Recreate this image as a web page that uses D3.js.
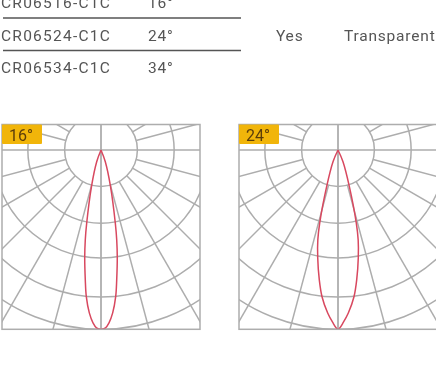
<!DOCTYPE html>
<html lang="en">
<head>
    <meta charset="UTF-8">
    <title>Beam angle polar diagrams</title>
    <script src="https://d3js.org/d3.v7.min.js"></script>
    <style>
        body {
            margin: 0;
            padding: 0;
            background: #fff;
            overflow: hidden;
        }

        svg {
            filter: blur(0.35px);
        }

        text {
            font-family: 'Roboto', sans-serif;
            fill: #555;
        }

        .cell {
            font-size: 15.5px;
            letter-spacing: 0.8px;
        }

        .model {
            letter-spacing: 1.25px;
        }
    </style>
</head>
<body>
    <svg id="chart" width="436" height="365"></svg>

    <script>
        // Table
        const models = ["CR06516-C1C", "CR06524-C1C", "CR06534-C1C"];
        const beams = ["16°", "24°", "34°"];
        const dimmable = "Yes";
        const lens = "Transparent";

        // Polar grid (degrees from straight down, relative intensity)
        // the rings are not evenly spaced in the picture
        const rings = [20.3, 40.8, 60.2, 82, 100];
        const spokes = [15, 30, 45, 60, 75, 105, 120, 135];

        // Half of each beam curve, from the tip at the centre to the bottom
        const angles16 = [24, 20.2, 14.67, 11.08, 9.9, 8.6, 6.89, 5.72, 4.1, 2.65, 1.45, 0];
        const values16 = [0, 6.95, 20.9, 41.5, 51, 60.7, 73, 82.2, 91.1, 96.5, 99.2, 100];
        const angles24 = [27, 23.1, 17.3, 14.07, 12.65, 10.67, 8.19, 6.22, 3.62, 1.66, 0.55, 0];
        const values24 = [0, 7.1, 21.2, 42, 51.4, 61.1, 73.2, 82.3, 91.1, 96.5, 99.3, 100];

        const panelLabels = ["16°", "24°"];
        const panelAngles = [angles16, angles24];
        const panelValues = [values16, values24];
        const panelLefts = [2, 239];

        const panelW = 198;
        const panelH = 204.8;
        const panelTop = 124.5;
        const centerDy = 25.5;

        const svg = d3.select("#chart");

        // Table rows
        const rowY = d3.scalePoint().domain(models).range([8, 73]);
        const rows = svg.append("g");

        models.forEach((m, i) => {
            rows.append("text").attr("class", "cell model").attr("x", 1).attr("y", rowY(m)).text(m);
            rows.append("text").attr("class", "cell").attr("x", 148).attr("y", rowY(m)).text(beams[i]);
        });

        rows.selectAll("line")
            .data(models.slice(1))
            .join("line")
            .attr("x1", 3)
            .attr("x2", 241)
            .attr("y1", d => rowY(d) - 22.5)
            .attr("y2", d => rowY(d) - 22.5)
            .attr("stroke", "#555")
            .attr("stroke-width", 1.4);

        rows.append("text").attr("class", "cell").attr("x", 276).attr("y", rowY(models[1])).text(dimmable);
        rows.append("text").attr("class", "cell").attr("x", 344).attr("y", rowY(models[1])).text(lens);

        // Radius scale, 100% reaches the bottom edge of the box
        const r = d3.scaleLinear().domain([0, 100]).range([0, panelH - centerDy]);
        const toRad = d3.scaleLinear().domain([0, 180]).range([Math.PI, 0]);

        panelLabels.forEach((label, i) => {
            const g = svg.append("g")
                .attr("transform", `translate(${panelLefts[i]},${panelTop})`);

            g.append("clipPath")
                .attr("id", `clip${i}`)
                .append("rect")
                .attr("width", panelW)
                .attr("height", panelH);

            const grid = g.append("g")
                .attr("clip-path", `url(#clip${i})`)
                .append("g")
                .attr("transform", `translate(${panelW / 2},${centerDy})`)
                .attr("fill", "none")
                .attr("stroke", "#adadad")
                .attr("stroke-width", 1.5);

            grid.selectAll("circle")
                .data(rings)
                .join("circle")
                .attr("r", d => r(d));

            // spokes start at the first ring on both sides
            grid.selectAll(".spoke")
                .data(spokes.flatMap(a => [a, -a]))
                .join("line")
                .attr("class", "spoke")
                .attr("x1", d => r(rings[0]) * Math.sin(toRad(d)))
                .attr("y1", d => -r(rings[0]) * Math.cos(toRad(d)))
                .attr("x2", d => r(130) * Math.sin(toRad(d)))
                .attr("y2", d => -r(130) * Math.cos(toRad(d)));

            // the two axes go through the centre
            grid.append("line").attr("x1", -panelW / 2).attr("x2", panelW / 2);
            grid.append("line").attr("y1", -centerDy).attr("y2", panelH - centerDy).attr("stroke-width", 1.8);

            // Beam curve, mirrored around the vertical axis
            const half = panelAngles[i].map((a, j) => [a, panelValues[i][j]]);
            const full = half.concat(half.slice(0, -1).reverse().map(d => [-d[0], d[1]]));

            const line = d3.lineRadial()
                .angle(d => toRad(d[0]))
                .radius(d => r(d[1]))
                .curve(d3.curveCatmullRom.alpha(0.5));

            g.append("path")
                .attr("transform", `translate(${panelW / 2},${centerDy})`)
                .attr("d", line(full))
                .attr("fill", "none")
                .attr("stroke", "#d8485f")
                .attr("stroke-width", 1.5);

            // Box
            g.append("rect")
                .attr("width", panelW)
                .attr("height", panelH)
                .attr("fill", "none")
                .attr("stroke", "#adadad")
                .attr("stroke-width", 1.5);

            // Beam label
            g.append("rect")
                .attr("width", 40)
                .attr("height", 19.5)
                .attr("rx", 1)
                .attr("fill", "#f1b50a");

            g.append("text")
                .attr("x", 7)
                .attr("y", 16)
                .attr("font-size", "16px")
                .style("fill", "#5b3d0a")
                .text(label);
        });
    </script>
</body>
</html>
